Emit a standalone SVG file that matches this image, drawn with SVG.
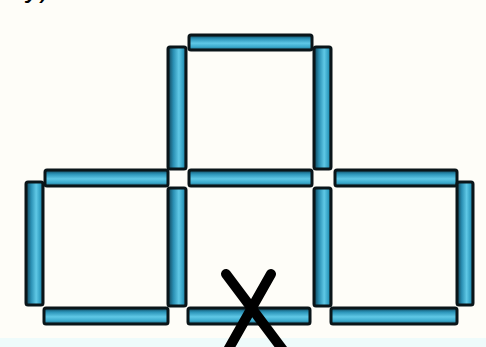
<svg xmlns="http://www.w3.org/2000/svg" width="486" height="347" viewBox="0 0 486 347">
  <defs>
    <linearGradient id="gh" x1="0" y1="0" x2="0" y2="1">
      <stop offset="0" stop-color="#0f3f52"/>
      <stop offset="0.25" stop-color="#2a93b8"/>
      <stop offset="0.55" stop-color="#5fc8e6"/>
      <stop offset="0.8" stop-color="#3aa9cc"/>
      <stop offset="1" stop-color="#1d5f75"/>
    </linearGradient>
    <linearGradient id="gv" x1="0" y1="0" x2="1" y2="0">
      <stop offset="0" stop-color="#0f3f52"/>
      <stop offset="0.3" stop-color="#2a8fb3"/>
      <stop offset="0.6" stop-color="#5fc8e6"/>
      <stop offset="0.85" stop-color="#2e9cc0"/>
      <stop offset="1" stop-color="#14485c"/>
    </linearGradient>
  </defs>
  <style>
    .h { fill: url(#gh); stroke: #0a1519; stroke-width: 3; }
    .v { fill: url(#gv); stroke: #0a1519; stroke-width: 3; }
    .x { stroke: #000; stroke-width: 10; stroke-linecap: round; fill: none; }
    .t { font-family: "Liberation Sans", Arial, sans-serif; font-size: 30px; fill: #000; }
  </style>
  <rect x="0" y="0" width="486" height="347" fill="#fefdf8"/>
  <rect x="0" y="338" width="486" height="9" fill="#eefbfb"/>
  <text class="t" x="24" y="-3">y)</text>

  <g id="top-square">
    <rect class="h" x="189" y="35" width="123" height="15" rx="2"/>
    <rect class="v" x="168" y="47" width="18" height="122" rx="2"/>
    <rect class="v" x="314" y="47" width="17" height="122" rx="2"/>
  </g>

  <g id="left-square">
    <rect class="h" x="45" y="170" width="123" height="16" rx="2"/>
    <rect class="v" x="26" y="182" width="17" height="123" rx="2"/>
    <rect class="h" x="44" y="308" width="124" height="16" rx="2"/>
  </g>

  <g id="middle-square">
    <rect class="h" x="189" y="170" width="123" height="16" rx="2"/>
    <rect class="v" x="168" y="188" width="18" height="118" rx="2"/>
    <rect class="v" x="314" y="188" width="17" height="118" rx="2"/>
    <rect class="h" x="188" y="308" width="122" height="16" rx="2"/>
  </g>

  <g id="right-square">
    <rect class="h" x="335" y="170" width="122" height="16" rx="2"/>
    <rect class="v" x="457" y="182" width="16" height="123" rx="2"/>
    <rect class="h" x="331" y="308" width="126" height="16" rx="2"/>
  </g>

  <g id="cross">
    <line class="x" x1="226" y1="274" x2="283" y2="350"/>
    <line class="x" x1="271" y1="274" x2="228" y2="350"/>
  </g>
</svg>
